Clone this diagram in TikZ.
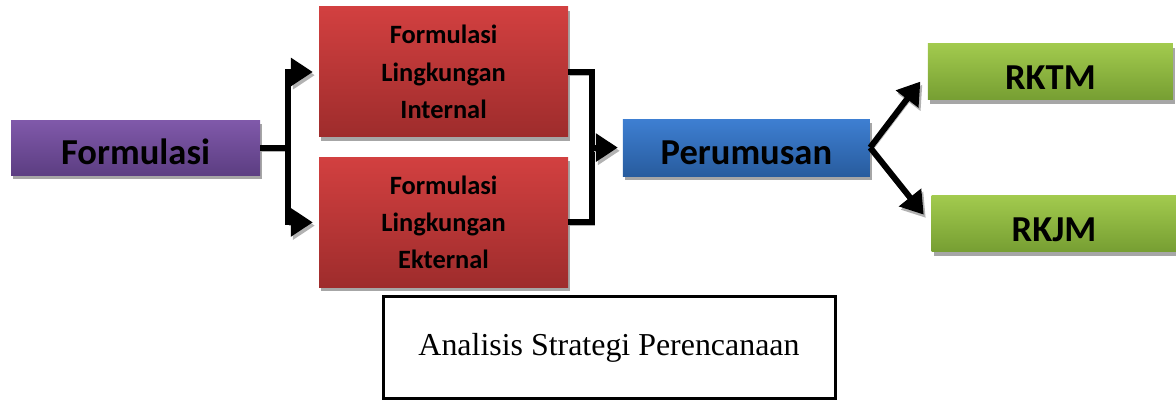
\documentclass[tikz,border=0pt]{standalone}
\usepackage{fontspec}
\setmainfont{Liberation Serif}
\newfontfamily\calib{Carlito}
\usepackage{tikz}
\usetikzlibrary{arrows.meta, positioning, calc, shadows}
\usepackage{xcolor}
\definecolor{formtop}{RGB}{128,89,170}
\definecolor{formbot}{RGB}{92,62,130}
\definecolor{redtop}{RGB}{210,64,64}
\definecolor{redbot}{RGB}{158,44,44}
\definecolor{bluetop}{RGB}{62,127,210}
\definecolor{bluebot}{RGB}{40,92,158}
\definecolor{greentop}{RGB}{162,202,78}
\definecolor{greenbot}{RGB}{118,158,50}

\begin{document}
\begin{tikzpicture}[
		boxbase/.style={inner sep=0pt, drop shadow={shadow xshift=0.05cm, shadow yshift=-0.09cm, fill=black!35, opacity=1}},
		mainbox/.style={boxbase, text height=0.86cm, text depth=0cm, font=\calib\bfseries\fontsize{26}{30}\selectfont},
		purplebox/.style={mainbox, top color=formtop, bottom color=formbot, minimum width=6.225cm, minimum height=1.375cm},
		bluebox/.style={mainbox, top color=bluetop, bottom color=bluebot, minimum width=6.175cm, minimum height=1.425cm},
		greenbox/.style={mainbox, top color=greentop, bottom color=greenbot, minimum width=6.125cm, minimum height=1.4cm},
		redbox/.style={boxbase, top color=redtop, bottom color=redbot, minimum width=6.225cm, minimum height=3.25cm, align=center, font=\calib\bfseries\fontsize{18.8}{26.5}\selectfont},
		notebox/.style={draw=black, line width=0.075cm, minimum width=11.3cm, minimum height=2.55cm, font=\fontsize{22.7}{26}\selectfont},
		conn/.style={line width=0.15cm, black, preaction={draw=black!30, transform canvas={shift={(0.05cm,-0.08cm)}}}},
		connarrow/.style={conn, -{Triangle[length=0.55cm, width=0.68cm]}}
	]
	\useasboundingbox (0,0) rectangle (29.4,-10.025);

	% --- Boxes ---
	\node[purplebox] (form) at (3.39, -3.69) {Formulasi};

	\node[redbox] (lin_int) at (11.09, -1.8) {Formulasi\\Lingkungan\\Internal};
	\node[redbox] (lin_ext) at (11.09, -5.56) {Formulasi\\Lingkungan\\Ekternal};

	\node[bluebox] (perum) at (18.66, -3.69) {Perumusan};

	\node[greenbox] (rktm) at (26.26, -1.8) {RKTM};
	\node[greenbox] (rkjm) at (26.35, -5.6) {RKJM};

	\node[notebox] (analisis) at (15.225, -8.7) {Analisis Strategi Perencanaan};

	% --- Connections ---
	\path (form.east) ++(0.68,0) coordinate (fj);
	\draw[conn] (form.east) -- (fj);
	\draw[connarrow, shorten >=0.15cm] (fj) |- (lin_int.west);
	\draw[connarrow, shorten >=0.15cm] (fj) |- (lin_ext.west);

	\path (lin_int.east) ++(0.6,0) coordinate (pj_top);
	\coordinate (pj) at (pj_top |- perum.west);
	\draw[conn] (lin_int.east) -- (pj_top) |- (lin_ext.east);
	\draw[connarrow, shorten >=0.12cm] (pj) -- (perum.west);

	\draw[connarrow, shorten >=0.3cm] (perum.east) -- (rktm.west);
	\draw[connarrow, shorten >=0.3cm] (perum.east) -- (rkjm.west);

\end{tikzpicture}
\end{document}
